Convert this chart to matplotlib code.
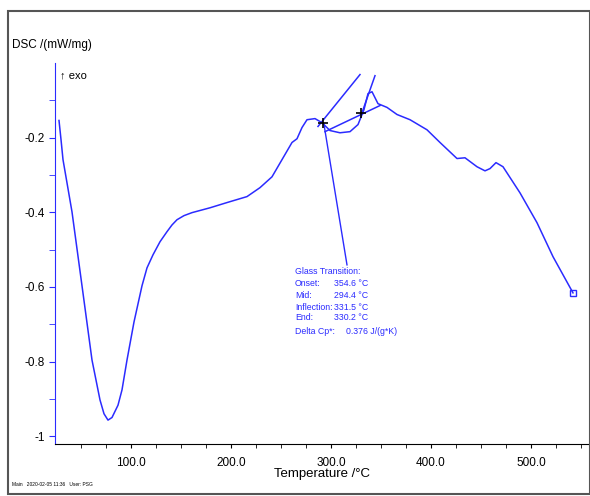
import matplotlib.pyplot as plt
from matplotlib.patches import Rectangle

plt.rcParams['font.family'] = ['Liberation Sans', 'DejaVu Sans']

# DSC curve
temp = [28, 30, 32, 41, 51, 61, 69, 73, 77, 81, 87, 91, 96, 103, 111, 116,
        122, 129, 136, 141, 146, 153, 161, 179, 196, 216, 229, 241, 251,
        261, 266, 271, 276, 284, 291, 299, 309, 319, 327, 333, 337, 341,
        347, 356, 366, 379, 396, 409, 426, 434, 446, 454, 459, 465, 472,
        489, 506, 522, 542]
dsc = [-0.154, -0.205, -0.259, -0.399, -0.597, -0.796, -0.903, -0.940,
       -0.957, -0.950, -0.917, -0.876, -0.796, -0.694, -0.597, -0.549,
       -0.514, -0.479, -0.452, -0.434, -0.420, -0.409, -0.401, -0.388,
       -0.374, -0.358, -0.334, -0.305, -0.259, -0.213, -0.203, -0.173,
       -0.152, -0.149, -0.160, -0.181, -0.187, -0.184, -0.165, -0.125,
       -0.082, -0.077, -0.109, -0.119, -0.138, -0.152, -0.179, -0.213,
       -0.256, -0.254, -0.278, -0.289, -0.283, -0.267, -0.278, -0.348,
       -0.428, -0.519, -0.616]

# glass transition construction lines
onset_x, onset_y = [287, 329], [-0.170, -0.031]
end_x, end_y = [331, 344], [-0.133, -0.034]
base_x, base_y = [294, 349], [-0.184, -0.114]
mark_x, mark_y = [292, 330], [-0.162, -0.133]
ptr_x, ptr_y = [293, 316], [-0.165, -0.541]

gt_labels = ['Onset:', 'Mid:', 'Inflection:', 'End:']
gt_values = ['354.6 \u00b0C', '294.4 \u00b0C', '331.5 \u00b0C', '330.2 \u00b0C']

blue = '#2b2bff'

fig = plt.figure(figsize=(5.9, 4.96), dpi=100)
ax = fig.add_axes([55 / 590, 52 / 496, 533 / 590, 381 / 496])

ax.plot(temp, dsc, color=blue, lw=1.1)
ax.plot(temp[-1], dsc[-1], marker='s', ms=5, mfc='none', mec=blue, mew=1)
ax.plot(onset_x, onset_y, color=blue, lw=1.1)
ax.plot(end_x, end_y, color=blue, lw=1.1)
ax.plot(base_x, base_y, color=blue, lw=1.1)
ax.plot(ptr_x, ptr_y, color=blue, lw=1.0)
ax.plot(mark_x, mark_y, ls='none', marker='+', ms=7, mew=1.2, color='black')

ax.set_xlim(24, 557)
ax.set_ylim(-1.021, 0.0)

ax.set_xticks([100, 200, 300, 400, 500])
ax.set_xticklabels(['100.0', '200.0', '300.0', '400.0', '500.0'])
ax.set_xticks(list(range(50, 557, 25)), minor=True)
ax.set_yticks([-1, -0.8, -0.6, -0.4, -0.2])
ax.set_yticklabels(['-1', '-0.8', '-0.6', '-0.4', '-0.2'])
ax.set_yticks([-0.9, -0.7, -0.5, -0.3, -0.1], minor=True)

for s in ['top', 'right']:
    ax.spines[s].set_visible(False)
ax.spines['left'].set_color(blue)
ax.spines['bottom'].set_color('black')
ax.tick_params(axis='y', which='both', colors=blue, labelcolor='black',
               direction='out', length=4, labelsize=8.5)
ax.tick_params(axis='x', which='both', direction='out', length=3,
               labelsize=8.5, pad=6)

ax.set_xlabel('Temperature /\u00b0C', fontsize=9.5, labelpad=0)

fig.text(12 / 590, 1 - 45 / 496, 'DSC /(mW/mg)', fontsize=8.5, va='center')
fig.text(60 / 590, 1 - 75 / 496, '\u2191 exo', fontsize=8, va='center')
fig.text(12 / 590, 1 - 484 / 496, 'Main   2020-02-05 11:36   User: PSG',
         fontsize=3.5, va='center')

fs = 6.3
fig.text(295 / 590, 1 - 272 / 496, 'Glass Transition:', fontsize=fs,
         color=blue, va='center')
rows = [284, 295, 307, 318]
for r, lab, val in zip(rows, gt_labels, gt_values):
    fig.text(295 / 590, 1 - r / 496, lab, fontsize=fs, color=blue,
             va='center')
    fig.text(334 / 590, 1 - r / 496, val, fontsize=fs, color=blue,
             va='center')
fig.text(295 / 590, 1 - 331 / 496, 'Delta Cp*:', fontsize=fs, color=blue,
         va='center')
fig.text(346 / 590, 1 - 331 / 496, '0.376 J/(g*K)', fontsize=fs, color=blue,
         va='center')

fig.patches.append(Rectangle((8 / 590, 2 / 496), 582 / 590, 483 / 496,
                             transform=fig.transFigure, fill=False,
                             edgecolor='#555555', lw=1.5))

fig.savefig('out.png', dpi=100)
